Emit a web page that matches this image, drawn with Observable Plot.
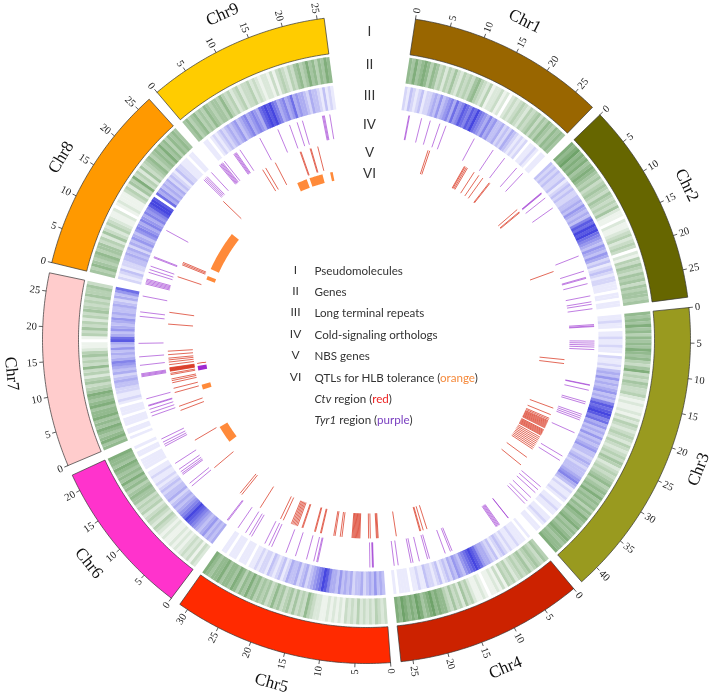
<!DOCTYPE html>
<html><head><meta charset="utf-8">
<style>html,body{margin:0;padding:0;background:#fff}svg{display:block;filter:blur(0.35px)}</style>
<script src="https://cdn.jsdelivr.net/npm/d3@7"></script>
<script src="https://cdn.jsdelivr.net/npm/@observablehq/plot@0.6"></script>
</head><body><div id="chart"></div>
<script>
const chrNames = ["Chr1","Chr2","Chr3","Chr4","Chr5","Chr6","Chr7","Chr8","Chr9"];
const chrLengths = [28.2,28.9,42.9,26.7,31.3,22.4,27.6,27.1,26];
const chrColors = ["#996600","#666600","#999a1f","#cc2200","#ff2a00","#ff33cc","#ffcccc","#ff9900","#ffcc00"];

const genesChr1 = [6,5,7,5,6,7,6,4,6,5,3,4,2,4,3,5,3,2,4,3,4,3,5,6,4,3,2,4,1,2,2,3,1,2,0,2,3,2,3,4,3,2,4,3,4,5,3,5,4,6,5,4,6,5,6,5];
const genesChr2 = [7,6,7,8,6,7,6,7,5,6,7,6,5,4,5,3,4,5,4,3,5,4,3,4,3,5,2,1,1,0,2,1,1,2,3,4,2,3,4,3,0,2,1,4,3,5,4,3,5,4,5,3,5,4,5,5,4,5];
const genesChr3 = [6,5,6,5,7,5,6,4,6,5,6,5,7,6,5,6,4,3,5,7,3,4,3,5,4,3,3,4,2,1,2,1,1,2,1,3,2,4,3,2,3,4,3,2,4,3,2,3,4,3,5,4,2,3,4,3,4,5,6,4,5,6,5,7,5,6,5,6,4,6,5,7,6,5,6,7,5,6,5,6,7,6,5,6,6,7];
const genesChr4 = [4,5,3,4,5,4,3,5,4,3,4,3,2,4,3,4,1,3,1,2,1,1,0,1,2,1,1,2,4,3,5,2,4,3,5,3,4,6,6,7,6,8,7,6,5,7,8,6,7,6,7,8,6,7];
const genesChr5 = [3,2,3,4,2,3,2,3,2,4,2,3,2,3,1,2,1,2,1,2,1,1,2,2,3,4,6,3,4,3,5,3,5,4,3,5,4,6,4,3,5,4,5,4,6,5,7,5,6,4,6,7,5,6,6,5,7,6,6,5,6,7];
const genesChr6 = [2,3,1,3,2,3,2,1,2,1,2,1,1,2,1,2,3,4,2,3,4,3,2,4,3,4,3,5,5,6,5,4,6,5,7,5,6,5,6,7,5,6,6,7];
const genesChr7 = [6,5,7,6,5,6,7,5,6,5,7,6,6,5,7,6,5,6,7,5,4,3,5,4,2,4,3,6,3,4,3,5,4,2,1,1,0,1,4,3,5,3,4,2,4,3,5,4,3,4,3,5,4,4,5,3];
const genesChr8 = [5,4,6,5,4,5,6,4,5,5,3,4,2,5,3,2,4,3,2,1,1,2,0,1,2,1,1,1,3,4,2,5,4,7,3,4,2,5,3,4,5,6,4,5,6,5,7,5,6,4,6,5,6,5];
const genesChr9 = [5,6,4,5,6,4,5,4,6,5,4,5,5,4,6,4,3,4,2,3,4,2,3,3,4,2,3,2,1,2,2,1,3,1,3,4,3,2,4,3,5,6,4,5,7,5,6,4,6,5,7,6];

const ltrChr1 = [2,1,3,2,1,2,3,1,2,2,3,4,3,5,3,4,5,6,4,7,5,6,8,7,6,8,7,9,7,6,5,4,6,4,5,3,3,4,2,3,2,4,3,2,1,2,1,2,0,1,1,2,1,0,1,1];
const ltrChr2 = [3,2,3,2,3,2,2,3,1,2,3,2,3,2,2,3,3,4,3,5,4,3,4,3,6,8,7,9,8,9,7,6,5,4,3,5,4,3,5,4,2,3,1,2,3,2,1,2,2,1,1,1,0,1,1,0,1,1];
const ltrChr3 = [1,1,2,1,1,0,1,1,2,1,1,2,1,1,0,2,1,1,2,1,3,4,3,5,3,4,3,4,5,3,4,3,6,8,7,8,9,8,6,7,4,5,3,4,3,5,3,4,3,4,5,3,3,2,3,4,3,2,3,3,3,4,5,6,4,3,1,2,1,1,2,1,0,1,1,2,1,1,0,1,1,2,1,0,1,1];
const ltrChr4 = [1,0,1,1,1,2,1,1,2,1,2,3,2,1,3,2,3,4,4,5,7,8,9,8,7,6,5,3,4,5,3,4,2,3,2,1,3,2,1,2,2,3,1,1,2,1,1,0,1,1,1,1,0,1];
const ltrChr5 = [3,4,3,5,3,4,3,2,4,3,3,2,4,3,4,3,5,3,4,4,6,8,9,7,6,5,4,3,2,4,3,2,4,3,3,4,2,1,3,2,1,2,3,1,2,2,1,2,1,1,0,1,1,1,0,1,1,1,0,1,1,0];
const ltrChr6 = [4,3,4,3,5,4,3,4,5,6,7,8,9,7,6,5,4,3,4,3,2,4,3,3,2,3,2,1,2,1,1,2,1,1,0,1,1,1,1,0,1,1,0,1];
const ltrChr7 = [1,0,1,1,0,1,1,1,0,1,1,1,0,1,2,1,1,2,2,3,3,4,3,2,4,3,4,5,6,4,3,4,3,5,3,4,8,7,4,3,5,4,3,4,5,3,4,3,3,4,3,2,4,3,5,7];
const ltrChr8 = [2,1,2,3,1,2,2,3,3,4,3,4,2,4,3,5,4,3,5,6,5,4,6,5,4,6,5,6,8,9,9,8,0,7,4,5,3,4,3,4,2,3,2,1,3,2,2,1,1,1,0,1,1,0];
const ltrChr9 = [0,1,1,0,1,2,1,2,3,2,3,4,3,4,5,3,4,5,6,4,5,6,5,4,7,8,9,8,9,7,6,4,5,6,4,5,7,4,5,4,4,3,2,4,3,3,2,1,3,1,2,1];

const coldChr1 = [1.6,1.75,4.2,6,8,9.3,15.5,19.9,22.7,25.8,27.4];
const coldChr2 = [3.1,3.2,3.3,4.4,6.9,17.8,21,22.3,22.5,23.6,26.1,27.3,27.8,28.7];
const coldChr3 = [1.5,1.75,1.9,4.8,5.2,5.6,6,6.5,13.6,13.7,14.7,17.1,17.5,19.7,20.1,20.5,20.9,23.65,28.9,29.9,36.4,37.2,38,39.3,40.3,41];
const coldChr4 = [1,1.05,3.2,3.4,3.6,3.8,4,14.05,14.4,15.5,18.8,19.2,20.9,22.2,22.6,25.2,26];
const coldChr5 = [2,2.1,2.2,2.7,13.2,13.4,14,15.5,17.8,19.8,22.9,23.5,24.4,27.4,27.9,28.8,30.6];
const coldChr6 = [0.3,0.5,10.3,11,13.2,13.5,13.9,14.5,15.9,19.9,20.3,20.8,21.5];
const coldChr7 = [2.6,3.3,4,4.7,4.85,6.2,10.7,10.9,11.1,11.3,13,14.7,17.4,22.8,23.7,26.9];
const coldChr8 = [0.3,0.55,0.8,1.05,1.3,2.7,3.3,4,5.8,6,11.8,24.4,24.7,25,25.3,26.5];
const coldChr9 = [0.1,0.3,0.5,0.7,0.9,1.35,3.7,3.9,4.1,4.3,5.2,9.8,13.8,16.3,17.9,19,23.1,23.3,23.5,24.6];

const nbsChr1 = [7.4,7.8,16.5,16.7,17,17.3,19.1,20.4,21.5,23.3,23.5];
const nbsChr2 = [2.5,3.2,3.4,19];
const nbsChr3 = [9.1,10,20.5,22.1,23,23.3,23.6,23.8,24,24.2,24.4,24.6,24.8,25,25.2,25.4,25.9,26.1,26.3,26.5,26.7,26.9,27.1,27.3,27.8,28.2,28.6,29,29.4,29.8,30.2,30.6,31,33.3,35.5];
const nbsChr4 = [17.5,18.4,19,19.2,24.7];
const nbsChr5 = [0.7,0.9,1.1,2.5,2.9,4.9,5.1,5.3,5.5,5.7,5.9,6.1,6.3,6.5,6.7,9,9.4,10.6,10.9,13.8,14,15.2,15.4,18.2,18.4,19.5,19.8,20.1,20.4,20.7,21,23,23.7,29];
const nbsChr6 = [1.4,1.9,10.2,17.9];
const nbsChr7 = [1.6,2.6,5.9,6.9,8.2,8.7,9.1,10.1,10.4,10.9,11,11.1,11.2,11.3,11.4,11.5,11.6,11.7,12.4,13,13.5,13.9,14.7,15.5,21.7,24.4];
const nbsChr8 = [3.7,6.6,6.9,7.2,24];
const nbsChr9 = [7,7.8,10.3,16.5,16.7,18.9,19.1,20.7];

const qtlChr = [5,6,6,6,7,7,8,8,8];
const qtlStart = [12.9,4.7,9.9,11.7,5.4,8.4,13,16.5,22.2];
const qtlEnd = [17.6,6,11.1,11.9,6.4,19.3,15.7,20.1,22.9];
const qtlColor = ["#ff8a3a","#ff8a3a","#a02bd0","#d8301a","#ff8a3a","#ff8a3a","#ff8a3a","#ff8a3a","#ff8a3a"];

const trackNumerals = ["I","II","III","IV","V","VI"];
const trackNumeralY = [31,64,95,124,152,173];
const legendNumerals = ["I","II","III","IV","V","VI"];
const legendRows = [
  [["Pseudomolecules"]],
  [["Genes"]],
  [["Long terminal repeats"]],
  [["Cold-signaling orthologs"]],
  [["NBS genes"]],
  [["QTLs for HLB tolerance ("],["orange","#f58a3c"],[")"]],
  [["Ctv",null,"italic"],[" region ("],["red","#ee2222"],[")"]],
  [["Tyr1",null,"italic"],[" region ("],["purple","#7a3fc0"],[")"]]
];
const legendY = [271,292,313,335,356,378,399,420];

const allGenes = [genesChr1,genesChr2,genesChr3,genesChr4,genesChr5,genesChr6,genesChr7,genesChr8,genesChr9];
const allLtr = [ltrChr1,ltrChr2,ltrChr3,ltrChr4,ltrChr5,ltrChr6,ltrChr7,ltrChr8,ltrChr9];
const allCold = [coldChr1,coldChr2,coldChr3,coldChr4,coldChr5,coldChr6,coldChr7,coldChr8,coldChr9];
const allNbs = [nbsChr1,nbsChr2,nbsChr3,nbsChr4,nbsChr5,nbsChr6,nbsChr7,nbsChr8,nbsChr9];

// layout of the circular genome
const W = 709, H = 695, cx = 366, cy = 339;
const firstAngle = 8.7, gap = 1.85, degPerMb = 1.26;
const starts = [];
chrLengths.reduce((a, l, i) => { starts[i] = a; return a + l * degPerMb + gap; }, firstAngle);
const ang = (c, mb) => starts[c] + mb * degPerMb;
const px = (r, a) => r * Math.sin(a * Math.PI / 180);
const py = (r, a) => r * Math.cos(a * Math.PI / 180);
const R = {band:[288,324], genes:[259,285], ltr:[232,256], cold:[203,228], nbs:[174,199], qtl:[162,171]};

function wedge(r, a0, a1) {
  const n = Math.max(2, Math.ceil((a1 - a0) / 0.5));
  const outer = d3.range(n + 1).map(i => a0 + (a1 - a0) * i / n);
  const pts = [...outer.map(a => ({r:r[1], a})), ...outer.reverse().map(a => ({r:r[0], a}))];
  pts.push(pts[0]);
  return pts;
}
const X = d => px(d.r, d.a), Y = d => py(d.r, d.a);
const polar = (rr) => ({x1:d => px(rr[0], d.a), y1:d => py(rr[0], d.a), x2:d => px(rr[1], d.a), y2:d => py(rr[1], d.a)});

const greenRamp = d3.interpolateRgb("#ffffff", "#5d9757");
const blueRamp = d3.interpolateRgb("#ffffff", "#4646e0");
function densityMarks(series, rr, ramp) {
  const rm = (rr[0] + rr[1]) / 2;
  return series.map((vals, c) => {
    const step = chrLengths[c] / vals.length;
    const data = vals.map((v, i) => ({a:ang(c, (i + 0.5) * step), v}));
    return Plot.link(data, {...polar(rr), stroke:d => ramp(d.v / 9), strokeWidth:step * degPerMb * Math.PI / 180 * rm + 0.3});
  });
}
function stripeMarks(series, rr, color, op) {
  const data = series.flatMap((vals, c) => vals.map(mb => ({a:ang(c, mb)})));
  return Plot.link(data, {...polar(rr), stroke:color, strokeWidth:1, strokeOpacity:op});
}

const ticks = chrLengths.flatMap((l, c) => d3.range(0, l + 0.01, 5).map(mb => ({a:ang(c, mb), mb})));
const nameData = chrNames.map((name, c) => ({name, a:ang(c, chrLengths[c] / 2)}));
const serif = "'Liberation Serif','Times New Roman',serif";
const sans = "Lato,'Open Sans',sans-serif";

const legendData = legendRows.map((segs, i) => ({t:segs.map(s => s[0]).join(""), y:cy - legendY[i]}));

const plot = Plot.plot({
  width:W, height:H, margin:0,
  x:{domain:[-cx, W - cx], range:[0, W], axis:null},
  y:{domain:[cy, cy - H], range:[0, H], axis:null},
  color:{type:"identity"},
  marks:[
    ...chrNames.map((n, c) => Plot.line(wedge(R.band, ang(c, 0), ang(c, chrLengths[c])), {x:X, y:Y, fill:chrColors[c], stroke:"#333", strokeWidth:0.7})),
    ...densityMarks(allGenes, R.genes, greenRamp),
    ...densityMarks(allLtr, R.ltr, blueRamp),
    stripeMarks(allCold, R.cold, "#9a2fd0", 0.62),
    stripeMarks(allNbs, R.nbs, "#d8301a", 0.72),
    ...qtlChr.map((c, i) => Plot.line(wedge(R.qtl, ang(c, qtlStart[i]), ang(c, qtlEnd[i])), {x:X, y:Y, fill:qtlColor[i], stroke:"none"})),
    Plot.link(ticks, {...polar([324, 328]), stroke:"#333", strokeWidth:0.8}),
    Plot.text(ticks.filter(d => d.a < 180), {x:d => px(330, d.a), y:d => py(330, d.a), text:d => String(d.mb), rotate:d => d.a - 90, textAnchor:"start", fontFamily:serif, fontSize:10.5, fill:"#222"}),
    Plot.text(ticks.filter(d => d.a >= 180), {x:d => px(330, d.a), y:d => py(330, d.a), text:d => String(d.mb), rotate:d => d.a + 90, textAnchor:"end", fontFamily:serif, fontSize:10.5, fill:"#222"}),
    Plot.text(nameData, {x:d => px(356, d.a), y:d => py(356, d.a), text:"name", rotate:d => (d.a > 90 && d.a < 270) ? d.a - 180 : d.a, fontFamily:serif, fontSize:17, fill:"#111"}),
    Plot.text(trackNumerals, {x:() => 369 - cx, y:(d, i) => cy - trackNumeralY[i], text:d => d, fontFamily:sans, fontSize:13.5, fill:"#333"}),
    Plot.text(legendNumerals, {x:() => 295 - cx, y:(d, i) => cy - legendY[i] + 1, text:d => d, fontFamily:sans, fontSize:12, fill:"#333"}),
    Plot.text(legendData, {x:() => 314 - cx, y:"y", text:"t", textAnchor:"start", fontFamily:sans, fontSize:11.6, fill:"#333", className:"legend-rows"})
  ]
});
// colour the words inside each legend row
d3.select(plot).selectAll(".legend-rows text").each(function () {
  const t = this.textContent, row = legendRows.find(r => r.map(s => s[0]).join("") === t);
  if (!row) return;
  this.textContent = "";
  const sel = d3.select(this);
  row.forEach(s => {
    const ts = sel.append("tspan").text(s[0]).attr("xml:space", "preserve").style("white-space", "pre");
    if (s[1]) ts.attr("fill", s[1]);
    if (s[2]) ts.attr("font-style", s[2]);
  });
});
document.getElementById("chart").appendChild(plot);
</script></body></html>
